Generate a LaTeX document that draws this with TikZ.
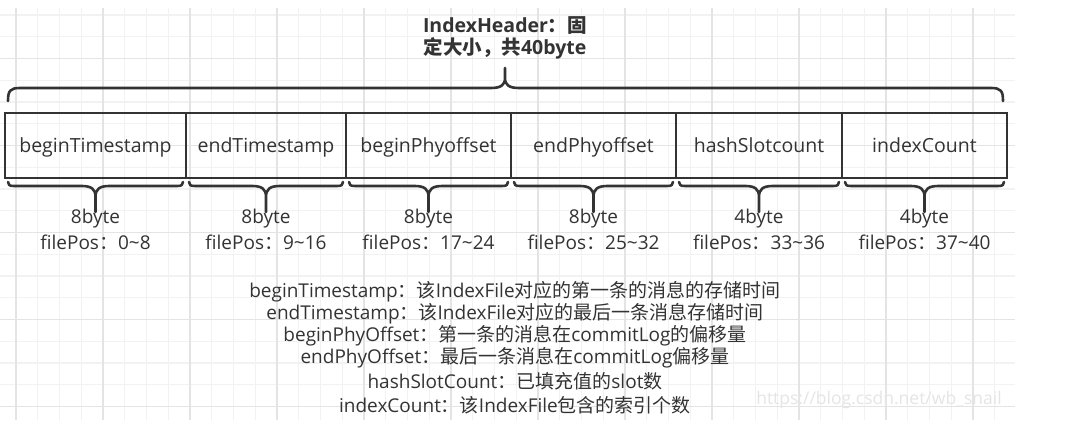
\documentclass[tikz,border=0pt]{standalone}
\usepackage{fontspec}
\setmainfont{Open Sans}
\newfontfamily\cjk{Noto Sans CJK SC}
\newcommand\zh[1]{{\cjk #1}}
\definecolor{ink}{HTML}{333333}
\definecolor{gminor}{HTML}{F2F2F2}
\definecolor{gmajor}{HTML}{E4E4E4}
\tikzset{
  gridminor/.style={draw=gminor, line width=1.2pt},
  gridmajor/.style={draw=gmajor, line width=1.4pt},
  field/.style={draw=ink, line width=1.8pt, rectangle, inner sep=0pt, minimum height=65pt, text height=18pt, text depth=4pt, font=\fontsize{19.5}{22}\selectfont, text=ink},
  br/.style={draw=ink, line width=2.6pt, line cap=round, line join=round},
  lbl/.style={inner sep=0pt, font=\fontsize{19}{22}\selectfont, text=ink},
  desc/.style={inner sep=0pt, font=\fontsize{19}{22}\selectfont, text=ink},
  title/.style={inner sep=0pt, align=center, font=\bfseries\fontsize{19.5}{22.5}\selectfont, text=ink},
  wmark/.style={inner sep=0pt, font=\fontsize{17.5}{20}\selectfont, text=black!10}
}
\newcommand\bbrace[3]{%
  \draw[br] (#1,182) .. controls (#1,185) and (#1+1.5,186) .. (#1+6,186) -- (#3-14,186)
    .. controls (#3-4,186) and (#3,189) .. (#3,197) -- (#3,212)
    (#3,197) .. controls (#3,189) and (#3+4,186) .. (#3+14,186) -- (#2-6,186)
    .. controls (#2-1.5,186) and (#2,185) .. (#2,182);}
\begin{document}
\begin{tikzpicture}[x=1pt,y=-1pt]
\useasboundingbox (0,0) rectangle (1088,430);
\fill[white] (0,0) rectangle (1088,430);
% grid
\foreach \k in {0,...,45} { \draw[gridminor] ({16+21.75*\k},8) -- ({16+21.75*\k},420); }
\foreach \k in {0,...,18} { \draw[gridminor] (0,{15+21.75*\k}) -- (1015,{15+21.75*\k}); }
\foreach \k in {0,4,...,44} { \draw[gridmajor] ({16+21.75*\k},8) -- ({16+21.75*\k},420); }
\foreach \k in {2,6,...,18} { \draw[gridmajor] (0,{15+21.75*\k}) -- (1015,{15+21.75*\k}); }
% watermark
\node[wmark] (wm) at (879,400) {https://blog.csdn.net/wb\_snail};
% title
\node[title] (title) at (505,38) {IndexHeader\zh{：固}\\\zh{定大小，共}40byte};
% top brace
\draw[br] (8,101) .. controls (8,91) and (10,88) .. (20,88) -- (491,88)
  .. controls (501,88) and (505,85) .. (505,78) -- (505,68)
  (505,78) .. controls (505,85) and (509,88) .. (519,88) -- (991,88)
  .. controls (1001,88) and (1003,91) .. (1003,101);
% fields
\node[field, minimum width=181pt] (f1) at (95.5,145.5) {beginTimestamp};
\node[field, minimum width=160pt] (f2) at (266,145.5) {endTimestamp};
\node[field, minimum width=165pt] (f3) at (428.5,145.5) {beginPhyoffset};
\node[field, minimum width=165pt] (f4) at (593.5,145.5) {endPhyoffset};
\node[field, minimum width=166pt] (f5) at (759,145.5) {hashSlotcount};
\node[field, minimum width=165pt] (f6) at (924.5,145.5) {indexCount};
% bottom braces
\bbrace{8}{183}{95.5}
\bbrace{189}{343}{266}
\bbrace{349}{508}{428.5}
\bbrace{514}{673}{593.5}
\bbrace{679}{839}{759}
\bbrace{845}{1004}{924.5}
% sizes
\node[lbl] (s1) at (95.5,219) {8byte};
\node[lbl] (s2) at (266,219) {8byte};
\node[lbl] (s3) at (428.5,219) {8byte};
\node[lbl] (s4) at (593.5,219) {8byte};
\node[lbl] (s5) at (759,219) {4byte};
\node[lbl] (s6) at (924.5,219) {4byte};
\node[lbl] (p1) at (95.5,242) {filePos\zh{：}0\textasciitilde 8};
\node[lbl] (p2) at (266,242) {filePos\zh{：}9\textasciitilde 16};
\node[lbl] (p3) at (428.5,242) {filePos\zh{：}17\textasciitilde 24};
\node[lbl] (p4) at (593.5,242) {filePos\zh{：}25\textasciitilde 32};
\node[lbl] (p5) at (759,242) {filePos\zh{：}33\textasciitilde 36};
\node[lbl] (p6) at (924.5,242) {filePos\zh{：}37\textasciitilde 40};
% descriptions
\node[desc] (d1) at (515,292) {beginTimestamp\zh{：该}IndexFile\zh{对应的第一条的消息的存储时间}};
\node[desc] (d2) at (515,314) {endTimestamp\zh{：该}IndexFile\zh{对应的最后一条消息存储时间}};
\node[desc] (d3) at (515,336) {beginPhyOffset\zh{：第一条的消息在}commitLog\zh{的偏移量}};
\node[desc] (d4) at (515,358) {endPhyOffset\zh{：最后一条消息在}commitLog\zh{偏移量}};
\node[desc] (d5) at (515,381) {hashSlotCount\zh{：已填充值的}slot\zh{数}};
\node[desc] (d6) at (515,405) {indexCount\zh{：该}IndexFile\zh{包含的索引个数}};
\end{tikzpicture}
\end{document}
